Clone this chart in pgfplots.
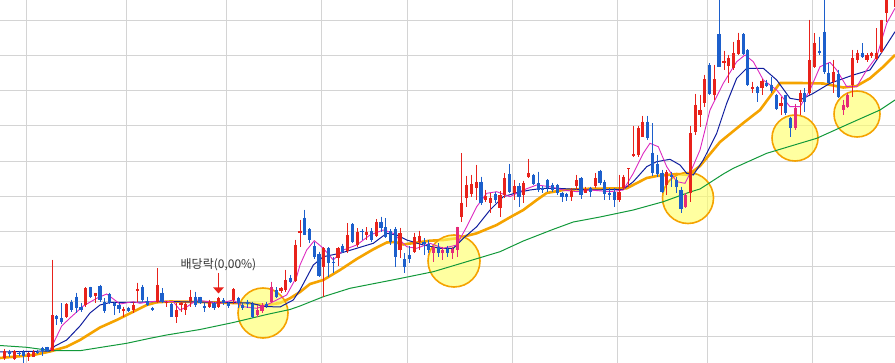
\documentclass[border=0pt]{standalone}
\usepackage{pgfplots}
\usepackage{pgfplotstable}
\pgfplotsset{compat=1.18}
\usepackage{fontspec}
\newfontfamily\kr{Noto Sans CJK KR}
\definecolor{cRed}{HTML}{E8221B}
\definecolor{cBlue}{HTML}{1C5FCC}
\definecolor{cPink}{HTML}{E62A78}
\definecolor{cMag}{HTML}{DD2AC0}
\definecolor{cNavy}{HTML}{101E9E}
\definecolor{cOrange}{HTML}{F5A300}
\definecolor{cGreen}{HTML}{12993A}
\definecolor{cGrid}{HTML}{D4D4D4}
\definecolor{cCircle}{HTML}{FFFF66}
\definecolor{cText}{HTML}{333333}
\tikzset{hl/.style={draw=cOrange, line width=1.6pt, fill=cCircle, fill opacity=0.62, draw opacity=1}}

% candle tables: x, wick top (h), body top (t), body bottom (b), wick bottom (l) -- screen y (down positive)
\pgfplotstableread{
x h t b l
4.3 349 351 358 360
14.3 350 351 359.3 360
28.5 351.7 353 356.7 360.7
33.3 350 351.7 356.7 357.3
52.3 260 315 350.7 351
66.3 303.3 304 317.3 318.3
85.8 287.3 288.3 305 306.7
95.2 293 293.5 295.7 303
123.3 306.7 309.3 311.3 316.7
133.3 301.7 305 310 313.3
137.8 282.7 289.3 290.7 301.7
157.2 268.3 285 302.3 303.3
166.7 301 301.7 302.7 306.7
176.3 303.3 310 316.7 323.3
181 301.7 303.3 305 311.7
185.7 301.7 304 310 315
190.4 290 296.7 300.7 306.7
209.2 300 301.7 307.3 308.3
218.7 296.7 298.3 307.3 308.3
233.3 288.3 289.3 300 304
281 287.3 288.3 290.7 292.7
285.7 270 280 290 291.7
295.3 240 245 280.7 281.7
300 220 230.7 233.3 246.7
323.3 247.3 248.3 267.3 297.3
338 247.3 248.3 258.3 266
347.3 223.3 235 251 252.7
357.3 228.3 231.7 245 246.7
366.7 227.3 231.7 235 240
376.3 219.3 221.7 236 237.3
400 228 233 250 258
414.3 232.7 237.3 251.7 253.3
419.3 230.7 236 241.7 250
461.3 153.3 202.7 217.3 221.7
466.7 176 185 198.3 207.3
471.3 175 184 194 196.7
476.3 165 181.7 188.3 200
485.7 190 196 200 201.7
490.7 193.3 198.3 203.3 213.3
500 191 195 208 217
504.3 173.3 178.3 195 198.3
514.3 180 186 192.7 200
523.3 180.7 182.7 195 203.3
528.3 159 173.3 177.3 177.7
571.3 188.3 190.7 197.3 200.7
576.3 175 180 186 190
585.7 186.7 189.3 192.7 193.3
595.3 173.3 178.3 186 188.3
619 175 191.7 200 201.7
623.3 175 176.7 188.3 190
628.7 168.3 168.3 169.5 186.7
633.3 126 154 155.7 156.7
638.3 126 128.3 155 156.7
642.7 116 121.7 136.7 137
666.7 170 171.7 185 195
690.3 126 133.3 193.3 201.7
695.3 94 105 131.7 135
700 95 110 115 126.7
704.3 75 79.3 103.3 106.7
714.3 65 79.3 95 100
724 50.7 61 62.7 70
728.7 55 58.3 66 83.3
733.3 41.7 53.3 68.3 70
738.3 32.7 40 54 55
752.3 81.7 87.3 89.3 93.3
762 79.3 80.7 88.3 95
781 96.7 103.3 106 115
800.3 90 93.3 101.7 115
809.3 20 60 93.3 95
814.3 33.3 42.7 66.7 68.3
833.5 60 71.7 81.7 93.3
852.7 50 58.3 85 97.3
857.3 50 52.7 60 63.3
867 53.3 55 60 61.7
871.7 51.7 52.7 56 58.3
876.3 28.3 53.3 59.3 60
881.3 20 20 51.7 53.3
886.3 -5 -5 13.3 21.7
895.7 -5 -5 7 12
}\redtab

\pgfplotstableread{
x h t b l
9.3 350 351.7 354 357
19 351 352.7 354.3 356
23.7 350 351.7 356 362.7
37.8 350 351.7 353 354
42.5 346.7 348.3 351 356
47 346.7 347.3 350.7 351.7
56.8 315.3 316 318.7 325
61.3 303.3 318.3 322 324
71.2 300 301.7 310 311.7
76.2 293 296.7 308.3 313
81 302.7 306.7 310 311.7
90.4 286.7 287.3 296.7 297.7
100 285 286 300 302
104.7 298.3 302 311 313.3
109.3 292.7 294 303.3 304
114.3 301.7 303.5 306 315
119 303.3 305 309.3 313.3
128.5 306.7 308.3 310.7 311.7
142.3 285 286.7 300 301.7
147.3 296.7 301 305 306
152.2 306.7 308.3 310 311
162 288.3 293.3 301.7 303.3
171.3 302.7 304 316.7 317.3
195.3 291.7 296.7 305 306.7
200 296.7 297.5 303 304
204.3 303.3 306 308.3 311.7
214 301.7 302.7 308.3 310
223.3 298.3 300 303.3 305
228.5 301.7 303.3 306 308.3
238.3 296.7 298.3 303.3 308.3
242.8 303.3 305 308.3 310
247.3 300 301.7 304 308.3
252.3 301.7 304 316.7 318.3
266.7 301.7 304 306 308.3
276.2 287.3 290 296.7 298.3
290.7 275 278 281.7 283.3
304.7 210 217.7 235 235.5
309.3 228.3 229.3 240 243.3
314.3 241.7 246 256.7 259.3
319 251.7 254 276 276.7
328.7 247.3 248.3 262.7 276.7
333.3 257.3 261.7 263.3 273.3
342.7 244 246 251.7 253.3
352.3 223.3 224 241.7 243.3
362 229.3 230.7 232.3 240
371.3 228.3 230.7 240 241.7
381 216.7 221.7 228.3 231.7
385.7 218.3 227.3 236.7 238.3
390.7 229.3 230.7 241.7 245
395.3 227.3 229.3 257.3 266.7
404.7 253.3 259.3 266.7 273.3
409.3 246 255 259.3 262.7
424 238.3 241.7 244 255
428.7 240 244 250 253.3
438.3 243.3 247.3 253.3 257.3
447.3 246 249.3 252.7 257.3
481 176.7 181.7 203.3 205
495.3 191.7 194 200 203.3
509.3 164 174 191.7 193.3
519 183.3 186 196.7 206.7
533.3 174 175 184 185
538.3 171.7 183.3 190 191.7
542.7 186 188.3 190 193.3
547.3 179.3 179.7 188.3 191.7
552.3 182.7 185 190 191.7
557.3 184 185 193.3 195
562 191.7 193.3 196.7 201.7
566.7 192.7 194 197.3 200.7
581 177.3 178.3 195 199.3
590.3 186.7 188.3 191.7 197.3
600 170 170.7 183.3 185
604.3 180 182 194 200
609.3 188.3 193.3 195 200
614.3 188.3 191.7 200 207.3
647.3 116 121.7 138.3 140
652.3 123.3 152.7 173.3 176
657.3 155 164 174 176.7
662 170 172.7 191.7 193.3
671.3 171.7 175 176.7 186.7
676.3 176.7 180 186.7 193.3
681 186.7 190 209.3 213.3
709.3 63.3 65 94 95
719 -2 34 66.7 67.3
743.3 33.3 34 54 55
747.7 49.3 50 85 86
757.3 86 87.3 92.7 101.7
766.7 80 83.3 86 87.3
771.3 77.3 85 90.7 92.7
776.3 94 95 109.3 110
785.7 95 95 113.3 115
790.7 116.7 118.3 128.3 137.3
804.7 88.3 92.7 101.7 111.7
819.3 36.7 50.7 52.7 55
824.3 -2 31.7 71.7 74
828.7 63.3 72.7 82.7 83.3
838.3 70 74 96.7 98.3
862.3 43.3 52.7 56.7 58.3
}\bluetab

\pgfplotstableread{
x h t b l
257.3 305 310 315 316.7
262 303.3 305 310.7 313.3
271.3 281.7 286.7 301.7 303.3
433.3 246 247.3 252.7 261.7
442.7 246.7 250 252.7 260
452.3 247.3 249.3 253.3 259.3
457.3 226.7 227.3 250 256.7
685.7 193.3 195 206.7 208.3
795.5 104 108 128.3 130
843.3 100 105 110 115
847.7 93.3 95 107.3 108.3
}\pinktab

\pgfplotsset{
  wick/.style={only marks, mark=*, mark size=0pt, mark options={draw=none, fill=none}, forget plot,
    error bars/.cd, y dir=plus, y explicit, error mark=none,
    error bar style={line width=1pt, draw=#1, draw opacity=1}},
  body/.style={only marks, mark=*, mark size=0pt, mark options={draw=none, fill=none}, forget plot,
    error bars/.cd, y dir=plus, y explicit, error mark=none,
    error bar style={line width=3.3pt, draw=#1, draw opacity=1}},
}

\begin{document}
\begin{tikzpicture}
\begin{axis}[
  width=895pt, height=363pt, scale only axis,
  xmin=0, xmax=895, ymin=0, ymax=363, y dir=reverse,
  axis line style={draw=none},
  major tick length=0pt,
  xtick={26.7,126.7,226.7,321.7,407.3,512.7,617.3,707.3,812.7},
  ytick={20.5,55.5,90.5,126,161.5,196.7,231.8,266.8,301.8,336.8},
  xticklabels={}, yticklabels={},
  grid=major, grid style={cGrid, line width=1pt},
]
% MA20 (orange, thick)
\addplot[cOrange, line width=2.6pt, line join=round] coordinates {
(0,358) (33.3,355) (50,351.5) (66.7,346.7) (80,340) (100,327.5) (116.7,320)
(133.3,311.7) (146.7,305) (156.7,302.3) (170,301.5) (200,302) (233.3,303)
(250,303.5) (266.7,305) (280,303) (290,298.3) (300,292) (310,284) (323.3,280)
(340,270) (356.7,259) (373.3,249.3) (386.7,242.5) (395,242) (403.3,244.5)
(430,240.7) (443.3,240) (456.7,238.3) (476.7,233.3) (496.7,225) (510,217.3)
(523.3,210) (536.7,200) (546.7,193) (563.3,190) (590,188.7) (626.7,188.3)
(646.7,178) (656.7,176) (676.7,174) (688.3,175) (700,166) (720,142) (743.3,123)
(760,110) (780,83) (800,83) (823.3,83.5) (843.3,87.5) (856.7,86) (870,78.3)
(883.3,66.7) (895,55)};
% highlight circles
\draw[hl] (axis cs:263,313) circle[radius=25pt];
\draw[hl] (axis cs:454,261) circle[radius=26pt];
\draw[hl] (axis cs:688,198) circle[radius=25.5pt];
\draw[hl] (axis cs:795,138) circle[radius=23pt];
\draw[hl] (axis cs:857,114) circle[radius=23pt];
% MA60 (green)
\addplot[cGreen, line width=1pt] coordinates {
(0,345.5) (26.7,347.3) (50,350.5) (80,350.7) (100,347.5) (126.7,343.3) (150,338.3)
(166.7,335) (200,329.5) (233.3,322.5) (266.7,314.5) (290,309.5) (300,306) (323.3,296.7)
(350,288.3) (400,278.5) (433.3,271.7) (466.7,261.7) (500,251.7) (523.3,241)
(553.3,229.3) (573.3,222) (600,217) (633.3,210) (663.3,201.7) (690,192) (700,189)
(723.3,174) (733.3,168.3) (766.7,153.3) (800,143.3) (816.7,138.3) (850,123.3)
(880,110) (895,100)};
% MA10 (navy)
\addplot[cNavy, line width=1pt] coordinates {
(0,352) (50,351) (55,346) (66.7,340) (80,326) (90,313) (100,305) (110,302.5)
(130,302.5) (160,301.5) (200,302) (250,303) (265,306.5) (280,307) (293.3,300)
(300,290) (313.3,265) (323.3,256.7) (340,253.3) (356.7,248.3) (373.3,243.3)
(386.7,233.3) (396.7,235) (406.7,240) (423.3,245) (440,248.3) (453.3,248.3)
(463.3,238.3) (476.7,226.7) (490,210) (503.3,196.7) (516.7,192.7) (530,190)
(543.3,188.3) (556.7,188.3) (590,190) (623.3,189.3) (633.3,181.7) (646.7,166.7)
(656.7,161.7) (670,159.3) (680,165) (686.7,173.3) (693.3,175) (703.3,160)
(716.7,133.3) (726.7,103.3) (736.7,78.3) (746.7,68.3) (763.3,68.3) (776.7,80)
(790,98.3) (800,100) (813.3,93.3) (830,83.3) (853.3,75) (870,70) (883.3,50) (895,31.7)};
% MA5 (magenta)
\addplot[cMag, line width=0.9pt] coordinates {
(50,350) (55,340) (61.7,326) (70,318) (83.3,306) (96.7,298.3) (106.7,294) (120,304)
(133.3,301.7) (140,303.3) (150,301.7) (160,301) (173.3,301.7) (180,310) (186.7,307)
(196.7,300) (220,303.3) (233.3,300) (243.3,306.7) (256.7,308.3) (266.7,305)
(276.7,300) (286.7,295) (296.7,276.7) (300,265) (306.7,250) (314.3,240.7)
(323.3,248.3) (333.3,260) (343.3,250) (356.7,245) (370,235) (383.3,230) (393.3,233.3)
(406.7,246.7) (416.7,248.3) (430,243.3) (443.3,248.3) (456.7,245) (466.7,226.7)
(476.7,206.7) (486.7,193.3) (496.7,191.7) (510,196.7) (523.3,190) (536.7,185)
(550,186.7) (563.3,190) (576.7,191.7) (590,190) (610,191.7) (623.3,190) (633.3,173.3)
(643.3,153.3) (650,143.3) (658.3,146.7) (666.7,166.7) (676.7,181.7) (685,183.3)
(690,173.3) (700,150) (710,110) (723.3,83.3) (736.7,61.7) (745,55) (753.3,61.7)
(763.3,80) (776.7,90) (790,106.7) (800,106.7) (810,90) (820,66.7) (830,62.3)
(836.7,70) (846.7,86.7) (856.7,86.7) (866.7,70) (876.7,56.7) (886.7,23.3) (895,8.3)};
% candles
\addplot[wick=cRed] table[x=x, y=h, y error plus expr=\thisrow{l}-\thisrow{h}] {\redtab};
\addplot[body=cRed] table[x=x, y=t, y error plus expr=\thisrow{b}-\thisrow{t}] {\redtab};
\addplot[wick=cBlue] table[x=x, y=h, y error plus expr=\thisrow{l}-\thisrow{h}] {\bluetab};
\addplot[body=cBlue] table[x=x, y=t, y error plus expr=\thisrow{b}-\thisrow{t}] {\bluetab};
\addplot[wick=cPink] table[x=x, y=h, y error plus expr=\thisrow{l}-\thisrow{h}] {\pinktab};
\addplot[body=cPink] table[x=x, y=t, y error plus expr=\thisrow{b}-\thisrow{t}] {\pinktab};
% annotation
\node[text=cText, font=\kr\fontsize{12}{14}\selectfont, anchor=center] at (axis cs:218.5,265) {배당락(0,00\%)};
\draw[cRed, line width=1pt] (axis cs:218.5,273) -- (axis cs:218.5,288);
\fill[cRed] (axis cs:213,287.3) -- (axis cs:224,287.3) -- (axis cs:218.5,293.5) -- cycle;
\end{axis}
\pgfresetboundingbox
\path[use as bounding box] (current axis.south west) rectangle (current axis.north east);
\end{tikzpicture}
\end{document}
